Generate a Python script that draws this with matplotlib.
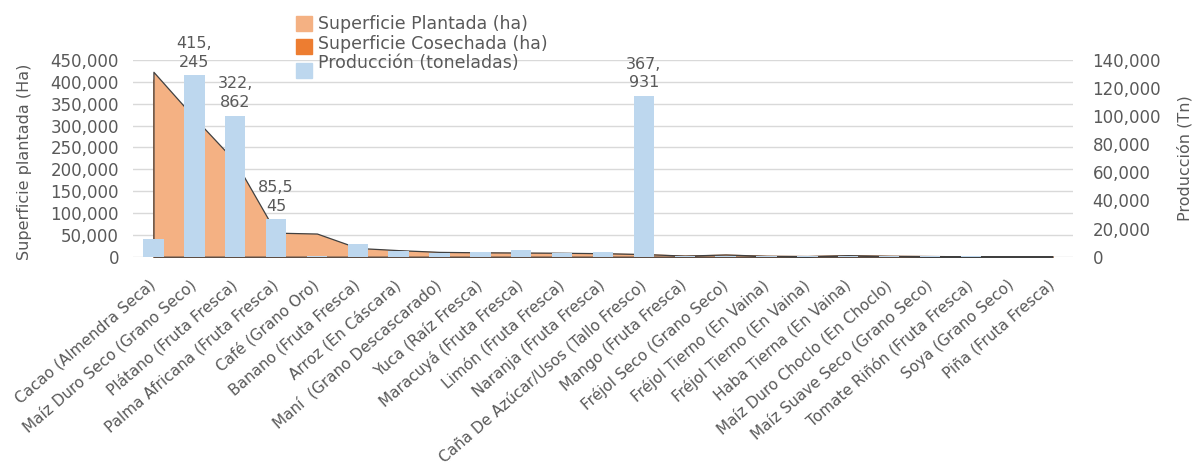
import numpy as np
import matplotlib
matplotlib.use("Agg")
import matplotlib.pyplot as plt
from matplotlib.patches import Rectangle
from matplotlib.ticker import FuncFormatter, MultipleLocator

plt.rcParams['font.family'] = ['DejaVu Sans']

# datos
cultivos = [
    "Cacao (Almendra Seca)", "Maíz Duro Seco (Grano Seco)", "Plátano (Fruta Fresca)",
    "Palma Africana (Fruta Fresca)", "Café (Grano Oro)", "Banano (Fruta Fresca)",
    "Arroz (En Cáscara)", "Maní  (Grano Descascarado)", "Yuca (Raíz Fresca)",
    "Maracuyá (Fruta Fresca)", "Limón (Fruta Fresca)", "Naranja (Fruta Fresca)",
    "Caña De Azúcar/Usos (Tallo Fresco)", "Mango (Fruta Fresca)", "Fréjol Seco (Grano Seco)",
    "Fréjol Tierno (En Vaina)", "Fréjol Tierno (En Vaina)", "Haba Tierna (En Vaina)",
    "Maíz Duro Choclo (En Choclo)", "Maíz Suave Seco (Grano Seco)", "Tomate Riñón (Fruta Fresca)",
    "Soya (Grano Seco)", "Piña (Fruta Fresca)",
]
sup_plantada = [423000, 318000, 218000, 55000, 53000, 20000, 15000, 11000, 10000, 9500,
                9000, 8000, 6000, 2500, 5000, 2000, 1500, 3500, 2000, 1500, 1000, 800, 600]
sup_cosechada = [405000, 300000, 205000, 51000, 49000, 18000, 13500, 10000, 9000, 8500,
                 8000, 7000, 5500, 2200, 4500, 1800, 1300, 3000, 1800, 1300, 900, 700, 500]
produccion = [40000, 415245, 322862, 85545, 1500, 29000, 13000, 8000, 10000, 15000,
              8000, 11000, 367931, 800, 1200, 600, 500, 900, 700, 600, 500, 400, 300]

c_plant = '#F4B183'
c_cos = '#ED7D31'
c_prod = '#BDD7EE'
gris = '#595959'

fig = plt.figure(figsize=(12, 4.63), dpi=100)
ax = fig.add_axes([133/1200, 1-256.7/463, 940/1200, 196.7/463])
x = np.arange(len(cultivos))

ax.fill_between(x, sup_cosechada, color=c_cos, zorder=2)
ax.fill_between(x, sup_plantada, facecolor=c_plant, edgecolor='#404040', linewidth=0.9, zorder=3)
bars = ax.bar(x, produccion, width=0.5, color=c_prod, zorder=4)

def partir(v):
    s = f"{v:,}"
    return "\n".join(s[i:i+4] for i in range(0, len(s), 4))

etiquetas = [partir(v) if v > 50000 else "" for v in produccion]
ax.bar_label(bars, labels=etiquetas, padding=4, color=gris, fontsize=11.5, linespacing=1.3)

ax.set_xlim(-0.5, len(cultivos) - 0.5)
ax.set_ylim(0, 450000)
ax.yaxis.set_major_locator(MultipleLocator(50000))
ax.yaxis.set_major_formatter(FuncFormatter(lambda v, p: f"{int(v):,}"))
ax.grid(axis='y', color='#D9D9D9', linewidth=1, zorder=0)
ax.set_axisbelow(True)
for s in ax.spines.values():
    s.set_visible(False)
ax.tick_params(axis='y', length=0, pad=10, labelsize=12, labelcolor=gris)
ax.tick_params(axis='x', length=0, pad=19)
ax.set_xticks(x)
ax.set_xticklabels(cultivos, rotation=41, ha='right', va='center', rotation_mode='anchor',
                   fontsize=11, color=gris)
ax.set_ylabel("Superficie plantada (Ha)", color=gris, fontsize=11.5)
ax.yaxis.set_label_coords(-0.107, 0.48)

ax2 = ax.twinx()
ax2.set_ylim(0, 140000)
ax2.yaxis.set_major_locator(MultipleLocator(20000))
ax2.yaxis.set_major_formatter(FuncFormatter(lambda v, p: f"{int(v):,}"))
for s in ax2.spines.values():
    s.set_visible(False)
ax2.tick_params(axis='y', length=0, pad=14, labelsize=12, labelcolor=gris)
ax2.set_ylabel("Producción (Tn)", color=gris, fontsize=11.5)
ax2.yaxis.set_label_coords(1.111, 0.50)

# leyenda
ley = [("Superficie Plantada (ha)", c_plant, 23),
       ("Superficie Cosechada (ha)", c_cos, 46),
       ("Producción (toneladas)", c_prod, 70)]
txt_y = [24, 44, 63]
for (lab, col, ym), ty in zip(ley, txt_y):
    fig.add_artist(Rectangle((296/1200, 1-(ym+8)/463), 16/1200, 15/463,
                             transform=fig.transFigure, color=col))
    fig.text(318/1200, 1-ty/463, lab, color=gris, fontsize=12.5, va='center')

fig.savefig("out.png", dpi=100)
